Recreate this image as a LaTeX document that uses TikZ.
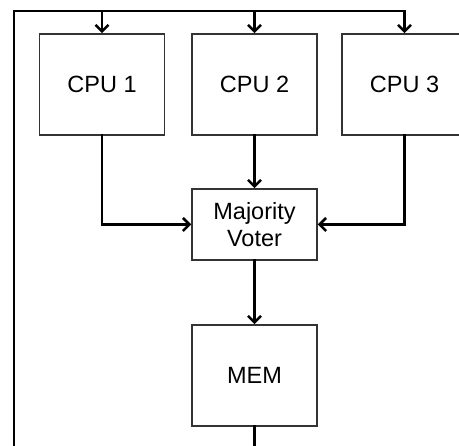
\documentclass[tikz,border=0pt]{standalone}
\usepackage{fontspec}
\setmainfont{Liberation Sans}
\usetikzlibrary{arrows.meta}
\begin{document}
\begin{tikzpicture}[x=1pt,y=-1pt,
  unit/.style={draw=black!80, line width=1.5pt, minimum width=125pt,
    minimum height=101pt, inner sep=0pt, align=center,
    font=\fontsize{23.5}{27}\selectfont},
  voterbox/.style={unit, minimum height=71pt},
  conn/.style={line width=2.6pt, line cap=rect},
  arr/.style={conn, -{Straight Barb[length=6.5pt,width=13pt,line width=2.6pt]}}]
  % picture frame; the feedback loop runs past its lower edge
  \path[use as bounding box, clip] (0,0) rectangle (459,446);

  \node[unit] (cpu1) at (102,84.5) {CPU 1};
  \node[unit] (cpu2) at (254.5,84.5) {CPU 2};
  \node[unit] (cpu3) at (404.5,84.5) {CPU 3};
  \node[voterbox] (voter) at (254.5,224.5) {Majority\\Voter};
  \node[unit] (mem) at (254.5,375.5) {MEM};

  % loop ends below the visible area
  \coordinate (memout) at (254.5,460);
  \coordinate (loopin) at (14,460);
  \coordinate (bus) at (14,11);

  % CPUs into the voter, voter into memory
  \draw[arr] (cpu1.south) |- (voter.west);
  \draw[arr] (cpu2.south) -- (voter.north);
  \draw[arr] (cpu3.south) |- (voter.east);
  \draw[arr] (voter.south) -- (mem.north);

  % feedback from memory back to the CPUs
  \draw[conn] (mem.south) -- (memout);
  \draw[conn] (loopin) -- (bus) -- (bus -| cpu3.north);
  \draw[arr] (bus -| cpu1.north) -- (cpu1.north);
  \draw[arr] (bus -| cpu2.north) -- (cpu2.north);
  \draw[arr] (bus -| cpu3.north) -- (cpu3.north);
\end{tikzpicture}
\end{document}
